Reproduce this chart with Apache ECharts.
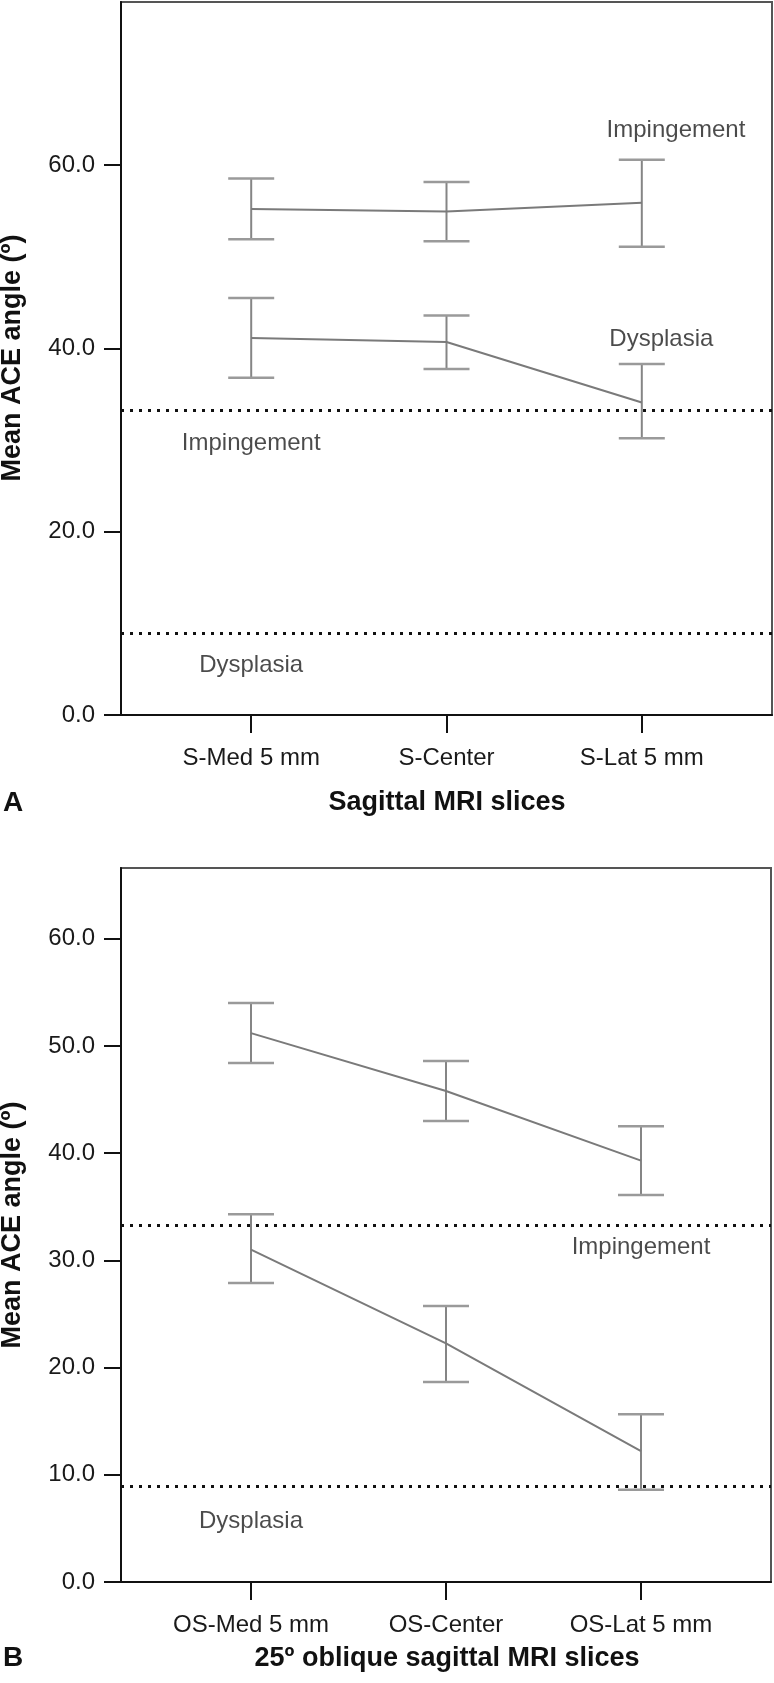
<!DOCTYPE html>
<html><head><meta charset="utf-8">
<script src="https://cdn.jsdelivr.net/npm/echarts@6/dist/echarts.min.js"></script>
<style>html,body{margin:0;padding:0;background:#fff}#c{width:774px;height:1683px}</style>
</head><body><div id="c"></div>
<script>
// ---- Panel A: Sagittal MRI slices ----
const catsA = ['S-Med 5 mm', 'S-Center', 'S-Lat 5 mm'];
const impMeanA = [55.2, 54.95, 55.9];
const impLowA  = [51.9, 51.7, 51.1];
const impHighA = [58.55, 58.15, 60.6];
const dysMeanA = [41.15, 40.7, 34.1];
const dysLowA  = [36.8, 37.75, 30.2];
const dysHighA = [45.5, 43.6, 38.3];
const yTicksA  = [0, 20, 40, 60];
const annTextA = ['Impingement', 'Dysplasia', 'Impingement', 'Dysplasia'];
const annXA    = [2.175, 2.1, 0, 0];
const annYA    = [63.8, 41.0, 29.6, 5.45];

// ---- Panel B: 25º oblique sagittal MRI slices ----
const catsB = ['OS-Med 5 mm', 'OS-Center', 'OS-Lat 5 mm'];
const impMeanB = [51.2, 45.8, 39.3];
const impLowB  = [48.4, 43.0, 36.1];
const impHighB = [54.0, 48.6, 42.5];
const dysMeanB = [31.0, 22.25, 12.2];
const dysLowB  = [27.9, 18.65, 8.6];
const dysHighB = [34.3, 25.75, 15.65];
const yTicksB  = [0, 10, 20, 30, 40, 50, 60];
const annTextB = ['Impingement', 'Dysplasia'];
const annXB    = [2, 0];
const annYB    = [31.2, 5.7];

// cut-off reference lines (same in both panels)
const impCut = 33.3;
const dysCut = 8.9;

const FONT = '"Liberation Sans", Arial, Helvetica, sans-serif';
const chart = echarts.init(document.getElementById('c'), null, {renderer: 'canvas'});

function xAxisCfg(idx, cats) {
  return {
    type: 'value', gridIndex: idx, min: -2/3, max: 8/3,
    axisLine: {show: true, onZero: false, lineStyle: {color: '#111', width: 2}},
    axisTick: {show: true, length: 18, customValues: [0, 1, 2], lineStyle: {color: '#111', width: 2}},
    axisLabel: {customValues: [0, 1, 2], formatter: v => cats[Math.round(v)] || '',
      fontSize: 24, color: '#1a1a1a', fontFamily: FONT, margin: 43, verticalAlign: 'middle'},
    splitLine: {show: false}
  };
}
function yAxisCfg(idx, max, interval, ticks) {
  return {
    type: 'value', gridIndex: idx, min: 0, max: max, interval: interval,
    axisLine: {show: true, onZero: false, lineStyle: {color: '#111', width: 2}},
    axisTick: {show: true, length: 17, customValues: ticks, lineStyle: {color: '#111', width: 2}},
    axisLabel: {customValues: ticks, formatter: v => Number(v).toFixed(1),
      fontSize: 24, color: '#1a1a1a', fontFamily: FONT, margin: 26},
    splitLine: {show: false}
  };
}
function errSeries(idx, low, high) {
  return {
    type: 'custom', xAxisIndex: idx, yAxisIndex: idx, silent: true, z: 3,
    data: low.map((l, i) => [i, l, high[i]]),
    encode: {x: 0, y: [1, 2]},
    renderItem: (params, api) => {
      const x = api.value(0);
      const p1 = api.coord([x, api.value(1)]);
      const p2 = api.coord([x, api.value(2)]);
      const hw = 23;
      const st = {stroke: '#858585', lineWidth: 2, fill: null};
      const cap = {stroke: '#9a9a9a', lineWidth: 2.5, fill: null};
      return {type: 'group', children: [
        {type: 'line', shape: {x1: p1[0], y1: p1[1], x2: p2[0], y2: p2[1]}, style: st},
        {type: 'line', shape: {x1: p1[0] - hw, y1: p1[1], x2: p1[0] + hw, y2: p1[1]}, style: cap},
        {type: 'line', shape: {x1: p2[0] - hw, y1: p2[1], x2: p2[0] + hw, y2: p2[1]}, style: cap}
      ]};
    }
  };
}
function meanSeries(idx, mean, withCut) {
  const s = {
    type: 'line', xAxisIndex: idx, yAxisIndex: idx, silent: true, z: 4,
    data: mean.map((v, i) => [i, v]), symbol: 'none',
    lineStyle: {color: '#7a7a7a', width: 2}
  };
  if (withCut) {
    s.markLine = {
      silent: true, symbol: 'none', label: {show: false},
      lineStyle: {color: '#111', width: 3, type: [3, 6], cap: 'butt'},
      data: [{yAxis: impCut}, {yAxis: dysCut}]
    };
  }
  return s;
}
function annSeries(idx, texts, xs, ys) {
  return {
    type: 'scatter', xAxisIndex: idx, yAxisIndex: idx, silent: true, z: 5,
    symbol: 'circle', symbolSize: 1, itemStyle: {color: 'rgba(0,0,0,0)'},
    data: texts.map((t, i) => ({name: t, value: [xs[i], ys[i]]})),
    label: {show: true, position: 'inside', formatter: p => p.name,
      fontSize: 24, color: '#1e1e1e', fontFamily: FONT}
  };
}

chart.setOption({
  animation: false,
  backgroundColor: '#fff',
  grid: [
    {left: 121, top: 2, width: 651, height: 713, show: true, borderColor: '#555', borderWidth: 2},
    {left: 121, top: 868, width: 650, height: 714, show: true, borderColor: '#555', borderWidth: 2}
  ],
  xAxis: [xAxisCfg(0, catsA), xAxisCfg(1, catsB)],
  yAxis: [yAxisCfg(0, 77.8, 20, yTicksA), yAxisCfg(1, 66.6, 10, yTicksB)],
  series: [
    meanSeries(0, impMeanA, true), errSeries(0, impLowA, impHighA),
    meanSeries(0, dysMeanA, false), errSeries(0, dysLowA, dysHighA),
    annSeries(0, annTextA, annXA, annYA),
    meanSeries(1, impMeanB, true), errSeries(1, impLowB, impHighB),
    meanSeries(1, dysMeanB, false), errSeries(1, dysLowB, dysHighB),
    annSeries(1, annTextB, annXB, annYB)
  ],
  graphic: [
    {type: 'text', x: 13, y: 358, rotation: Math.PI / 2,
      style: {text: 'Mean ACE angle (º)', font: 'bold 27px ' + FONT, fill: '#111', align: 'center', verticalAlign: 'middle'}},
    {type: 'text', x: 13, y: 1225, rotation: Math.PI / 2,
      style: {text: 'Mean ACE angle (º)', font: 'bold 27px ' + FONT, fill: '#111', align: 'center', verticalAlign: 'middle'}},
    {type: 'text', x: 447, y: 803,
      style: {text: 'Sagittal MRI slices', font: 'bold 27px ' + FONT, fill: '#111', align: 'center', verticalAlign: 'middle'}},
    {type: 'text', x: 447, y: 1659,
      style: {text: '25º oblique sagittal MRI slices', font: 'bold 27px ' + FONT, fill: '#111', align: 'center', verticalAlign: 'middle'}},
    {type: 'text', x: 3, y: 803,
      style: {text: 'A', font: 'bold 28px ' + FONT, fill: '#111', align: 'left', verticalAlign: 'middle'}},
    {type: 'text', x: 3, y: 1658,
      style: {text: 'B', font: 'bold 28px ' + FONT, fill: '#111', align: 'left', verticalAlign: 'middle'}}
  ]
});
</script>
</body></html>
